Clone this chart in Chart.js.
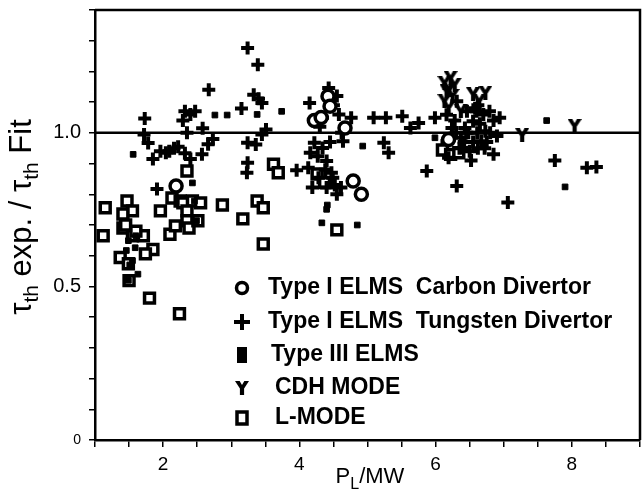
<!DOCTYPE html>
<html>
<head>
<meta charset="utf-8">
<script src="https://cdn.jsdelivr.net/npm/chart.js@4"></script>
<style>
  html, body { margin: 0; padding: 0; background: #fff; }
  #wrap { width: 642px; height: 492px; }
</style>
</head>
<body>
<div id="wrap"><canvas id="tau__chart" width="642" height="492"></canvas></div>
<script>
const xTickLabels = [2, 4, 6, 8];
const yTickLabels = [0, 0.5, 1.0];
const fitLineP = [1, 9];
const fitLineTau = [1.0, 1.0];

const legendLabels = [
    'Type I ELMS  Carbon Divertor',
    'Type I ELMS  Tungsten Divertor',
    'Type III ELMS',
    'CDH MODE',
    'L-MODE',
];

// Type I ELMs, carbon divertor (open circles)
const carbonP = [2.19, 4.42, 4.45, 4.67, 4.79, 4.91, 6.19, 4.22, 4.32];
const carbonTau = [0.827, 1.119, 1.087, 1.016, 0.843, 0.80, 0.978, 1.04, 1.05];

// Type I ELMs, tungsten divertor (crosses)
const tungstenP = [
    1.73, 1.72, 1.78, 1.85, 1.96, 2.04, 2.09, 2.16, 2.22, 2.29, 2.32, 2.47, 2.40, 2.35, 2.32,
    2.40, 2.58, 2.57, 2.66, 2.73, 2.67, 1.91, 3.15, 3.24, 3.39, 3.33, 3.40, 3.45, 3.24, 3.36,
    3.45, 3.51, 3.24, 3.23, 3.96, 4.15, 4.43, 4.22, 4.16, 4.27, 4.34, 4.40, 4.13, 4.19, 4.28,
    4.40, 4.49, 4.55, 4.61, 4.25, 4.34, 4.76, 4.64, 5.09, 5.27, 5.51, 5.75, 5.63, 5.24, 5.31,
    5.87, 5.99, 6.31, 6.24, 6.46, 6.55, 6.79, 6.94, 6.85, 6.52, 6.37, 6.61, 6.67, 6.73, 7.06,
    7.75, 8.22, 8.36, 6.19, 6.40, 6.43, 6.31, 6.16, 4.50, 4.55, 4.58, 4.47, 4.52, 6.30, 6.45,
    6.60, 6.65, 6.80, 6.75, 6.55, 6.50, 6.85, 6.90, 6.35, 6.28, 6.62, 6.70, 6.58, 6.48, 6.72,
    6.62, 6.42, 4.38, 4.45, 4.30, 4.62,
];
const tungstenTau = [
    1.047, 0.995, 0.967, 0.915, 0.94, 0.935, 0.94, 0.95, 0.955, 1.04, 1.07, 1.07, 1.06, 1.0, 0.934,
    0.915, 1.015, 0.93, 0.963, 0.98, 1.14, 0.817, 1.079, 1.276, 1.222, 1.124, 1.111, 1.097, 0.968, 0.962,
    0.995, 1.011, 0.903, 0.87, 0.878, 1.097, 1.146, 0.968, 0.935, 0.924, 0.951, 0.908, 0.886, 0.822, 0.854,
    0.822, 0.854, 0.80, 0.822, 1.038, 1.049, 1.049, 0.973, 1.049, 1.049, 1.054, 1.032, 1.016, 0.968, 0.935,
    0.876, 1.049, 0.827, 1.016, 1.07, 1.038, 1.07, 1.049, 0.93, 0.91, 0.984, 1.0, 0.973, 1.005, 0.773,
    0.91, 0.886, 0.889, 0.919, 0.951, 1.016, 1.103, 1.059, 1.09, 1.12, 1.06, 0.87, 0.83, 1.0, 1.0,
    1.07, 1.03, 1.0, 0.97, 0.97, 0.94, 1.04, 0.99, 0.95, 1.04, 1.09, 1.06, 1.08, 1.0, 0.95,
    0.95, 0.97, 0.88, 0.97, 1.02, 1.0,
];

// Type III ELMs (small filled squares)
const type3P = [1.56, 2.76, 2.94, 3.38, 3.74, 4.93, 5.99, 7.63, 7.90, 4.33, 4.85, 4.40, 2.43, 2.46, 2.49,
    1.49, 1.46, 1.55, 1.59, 1.51, 1.63, 1.49, 1.60, 4.41, 6.12];
const type3Tau = [0.93, 1.058, 1.058, 1.06, 1.07, 0.957, 0.984, 1.04, 0.824, 0.707, 0.70, 0.751, 0.837, 0.778, 0.714,
    0.649, 0.617, 0.584, 0.626, 0.57, 0.54, 0.52, 0.665, 0.765, 0.97];

// CDH mode (Y symbols)
const cdhP = [6.13, 6.22, 6.16, 6.13, 6.19, 6.55, 6.73, 6.64, 8.04, 6.28, 6.37, 7.27, 6.25, 6.20];
const cdhTau = [1.162, 1.178, 1.135, 1.103, 1.081, 1.125, 1.13, 1.103, 1.022, 1.157, 1.07, 0.992, 1.12, 1.14];

// L-mode (open squares)
const lmodeP = [1.15, 1.12, 1.47, 1.55, 1.41, 1.41, 1.55, 1.71, 1.85, 1.74, 1.37, 1.49, 1.50, 1.80, 2.24,
    1.96, 2.10, 2.18, 2.13, 2.25, 2.35, 2.29, 2.43, 2.55, 2.35, 2.35, 2.38, 2.51, 2.87, 3.17,
    3.38, 3.47, 3.47, 3.62, 3.69, 4.26, 4.55, 4.37, 6.10, 6.22, 6.34, 1.45, 1.60];
const lmodeTau = [0.756, 0.665, 0.778, 0.746, 0.736, 0.69, 0.665, 0.665, 0.62, 0.606, 0.594, 0.574, 0.519, 0.462, 0.411,
    0.746, 0.67, 0.697, 0.788, 0.778, 0.876, 0.772, 0.778, 0.772, 0.746, 0.714, 0.69, 0.714, 0.765, 0.72,
    0.778, 0.756, 0.638, 0.898, 0.87, 0.866, 0.684, 0.838, 0.944, 0.93, 0.935, 0.70, 0.68];

const toPoints = (xs, ys) => xs.map((x, i) => ({ x: x, y: ys[i] }));
const near = (a, b) => Math.abs(a - b) < 1e-6;

// Y shaped marker for CDH mode
const makeY = (size) => {
    const c = document.createElement('canvas');
    c.width = size;
    c.height = size;
    const g = c.getContext('2d');
    const s = size / 12;
    g.fillStyle = '#000';
    g.beginPath();
    g.moveTo(0, 0);
    g.lineTo(4 * s, 0);
    g.lineTo(6 * s, 3.5 * s);
    g.lineTo(8 * s, 0);
    g.lineTo(12 * s, 0);
    g.lineTo(7.8 * s, 6.5 * s);
    g.lineTo(7.8 * s, 12 * s);
    g.lineTo(4.2 * s, 12 * s);
    g.lineTo(4.2 * s, 6.5 * s);
    g.closePath();
    g.fill();
    return c;
};
const yMarker = makeY(14);

const FONT = '"Liberation Sans", Arial, Helvetica, sans-serif';

const framePlugin = {
    id: 'frame',
    afterDraw(chart) {
        const ctx = chart.ctx;
        const a = chart.chartArea;
        ctx.save();
        ctx.strokeStyle = '#000';
        ctx.lineWidth = 2.5;
        ctx.beginPath();
        ctx.moveTo(a.left, a.top);
        ctx.lineTo(a.right, a.top);
        ctx.lineTo(a.right, a.bottom);
        ctx.stroke();

        // legend inside the plot
        const symX = 242;
        const rows = [288, 322, 355, 388, 418];
        const textX = [268, 268, 271, 275, 275];
        ctx.fillStyle = '#000';
        ctx.font = 'bold 23px ' + FONT;
        ctx.textBaseline = 'middle';
        rows.forEach((ry, i) => {
            ctx.fillText(legendLabels[i], textX[i], ry);
        });
        // symbols
        ctx.lineWidth = 3.5;
        ctx.beginPath();
        ctx.arc(symX, rows[0], 5.5, 0, Math.PI * 2);
        ctx.stroke();
        ctx.lineWidth = 4;
        ctx.beginPath();
        ctx.moveTo(symX - 8, rows[1]);
        ctx.lineTo(symX + 8, rows[1]);
        ctx.moveTo(symX, rows[1] - 8);
        ctx.lineTo(symX, rows[1] + 8);
        ctx.stroke();
        ctx.fillRect(symX - 5, rows[2] - 8, 10, 16);
        ctx.drawImage(makeY(14), symX - 7, rows[3] - 7);
        ctx.lineWidth = 3.5;
        ctx.strokeRect(symX - 5, rows[4] - 6, 10, 12);

        // axis titles with subscripts
        ctx.textBaseline = 'alphabetic';
        ctx.save();
        ctx.translate(31, 217);
        ctx.rotate(-Math.PI / 2);
        const big = '31px ' + FONT;
        const small = '21px ' + FONT;
        const parts = [
            ['\u03c4', big, 0], ['th', small, 7], [' exp. / ', big, 0],
            ['\u03c4', big, 0], ['th', small, 7], [' Fit', big, 0],
        ];
        let total = 0;
        parts.forEach(p => { ctx.font = p[1]; total += ctx.measureText(p[0]).width; });
        let px = -total / 2;
        parts.forEach(p => {
            ctx.font = p[1];
            ctx.fillText(p[0], px, p[2]);
            px += ctx.measureText(p[0]).width;
        });
        ctx.restore();

        const xparts = [['P', '22px ' + FONT, 0], ['L', '16px ' + FONT, 6], ['/MW', '22px ' + FONT, 0]];
        let xt = 0;
        xparts.forEach(p => { ctx.font = p[1]; xt += ctx.measureText(p[0]).width; });
        let qx = 370 - xt / 2;
        xparts.forEach(p => {
            ctx.font = p[1];
            ctx.fillText(p[0], qx, 483 + p[2]);
            qx += ctx.measureText(p[0]).width;
        });
        ctx.restore();
    },
};

const tauChartEle = document.getElementById('tau__chart');

const tauChart = new Chart(tauChartEle, {
    type: 'scatter',
    data: {
        datasets: [
            {
                label: legendLabels[0],
                data: toPoints(carbonP, carbonTau),
                pointStyle: 'circle',
                pointRadius: 6,
                borderWidth: 3.5,
                borderColor: '#000',
                backgroundColor: '#fff',
            },
            {
                label: legendLabels[1],
                data: toPoints(tungstenP, tungstenTau),
                pointStyle: 'cross',
                pointRadius: 6.5,
                borderWidth: 4,
                borderColor: '#000',
                backgroundColor: '#000',
            },
            {
                label: legendLabels[2],
                data: toPoints(type3P, type3Tau),
                pointStyle: 'rect',
                pointRadius: 4,
                borderWidth: 1,
                borderColor: '#000',
                backgroundColor: '#000',
            },
            {
                label: legendLabels[3],
                data: toPoints(cdhP, cdhTau),
                pointStyle: yMarker,
                borderColor: '#000',
                backgroundColor: '#000',
            },
            {
                label: legendLabels[4],
                data: toPoints(lmodeP, lmodeTau),
                pointStyle: 'rect',
                pointRadius: 7,
                borderWidth: 3.5,
                borderColor: '#000',
                backgroundColor: '#fff',
            },
            {
                type: 'line',
                label: 'fit',
                data: toPoints(fitLineP, fitLineTau),
                borderColor: '#000',
                borderWidth: 2.5,
                pointRadius: 0,
            },
        ],
    },
    options: {
        responsive: false,
        animation: false,
        events: [],
        layout: { autoPadding: false, padding: { top: 10, right: 2, left: 0, bottom: 0 } },
        plugins: {
            legend: { display: false },
            tooltip: { enabled: false },
        },
        scales: {
            x: {
                type: 'linear',
                min: 1,
                max: 9,
                afterFit: (s) => { s.height = 52; s.paddingLeft = 0; s.paddingRight = 0; },
                border: { display: true, color: '#000', width: 2.5 },
                grid: { drawOnChartArea: false, drawTicks: true, tickLength: 7, color: '#000', lineWidth: 1.5 },
                ticks: {
                    stepSize: 0.5,
                    autoSkip: false,
                    maxRotation: 0,
                    padding: 6,
                    color: '#000',
                    font: { family: FONT, size: 19 },
                    callback: (v) => (xTickLabels.some(t => near(t, v)) ? String(Math.round(v)) : ''),
                },
            },
            y: {
                type: 'linear',
                min: 0,
                max: 1.4,
                afterFit: (s) => { s.width = 95; s.paddingTop = 0; s.paddingBottom = 0; },
                border: { display: true, color: '#000', width: 2.5 },
                grid: { drawOnChartArea: false, drawTicks: true, tickLength: 6, color: '#000', lineWidth: 1.5 },
                ticks: {
                    stepSize: 0.1,
                    autoSkip: false,
                    padding: 8,
                    color: '#000',
                    font: (c) => ({ family: FONT, size: c.tick && near(c.tick.value, 0) ? 14 : 20 }),
                    callback: (v) => {
                        if (near(v, 0)) return '0';
                        if (yTickLabels.some(t => near(t, v))) return v.toFixed(1);
                        return '';
                    },
                },
            },
        },
    },
    plugins: [framePlugin],
});
</script>
</body>
</html>
